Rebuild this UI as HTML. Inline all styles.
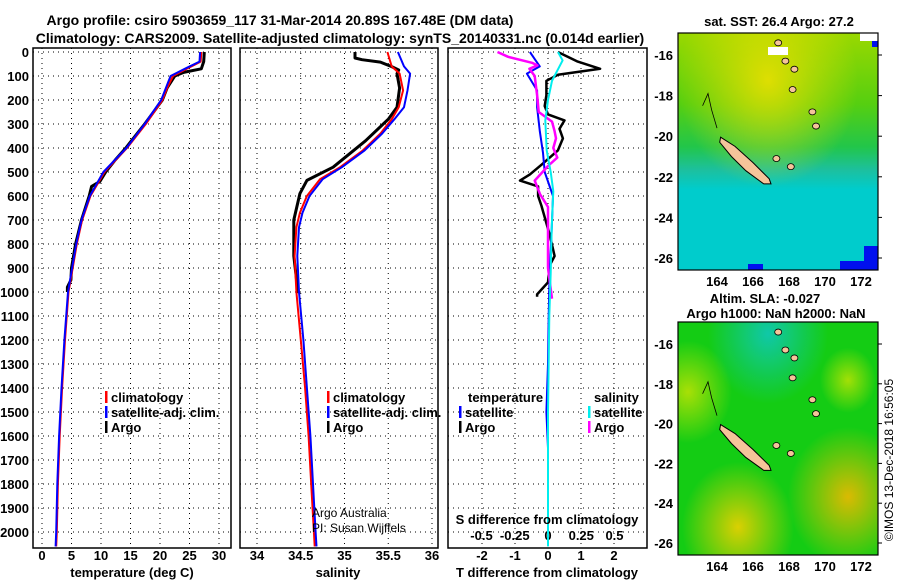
<!DOCTYPE html>
<html><head><meta charset="utf-8"><style>
body{margin:0;background:#fff;}
svg{display:block;font-family:"Liberation Sans",Arial,sans-serif;font-weight:bold;}
</style></head><body>
<svg id="c" width="900" height="580" viewBox="0 0 900 580" xmlns="http://www.w3.org/2000/svg">
<defs>
<radialGradient id="y1" cx="0.45" cy="0.2" r="0.45"><stop offset="0" stop-color="#f2e000" stop-opacity="0.85"/><stop offset="1" stop-color="#f2e000" stop-opacity="0"/></radialGradient>
<linearGradient id="g1" x1="0" y1="0" x2="0" y2="1"><stop offset="0" stop-color="#9ad800"/><stop offset="0.3" stop-color="#56cf10"/><stop offset="0.48" stop-color="#22c64a"/><stop offset="0.58" stop-color="#1cc0a0"/><stop offset="0.66" stop-color="#00cccc"/><stop offset="1" stop-color="#00cccc"/></linearGradient>
<radialGradient id="yb1" cx="0.3" cy="0.88" r="0.28"><stop offset="0" stop-color="#f0d000" stop-opacity="0.9"/><stop offset="1" stop-color="#f0d000" stop-opacity="0"/></radialGradient>
<radialGradient id="yb2" cx="0.85" cy="0.75" r="0.3"><stop offset="0" stop-color="#f0b800" stop-opacity="0.9"/><stop offset="1" stop-color="#f0c000" stop-opacity="0"/></radialGradient>
<radialGradient id="yb3" cx="0.05" cy="0.3" r="0.22"><stop offset="0" stop-color="#e8e800" stop-opacity="0.7"/><stop offset="1" stop-color="#e8e800" stop-opacity="0"/></radialGradient>
<radialGradient id="yb4" cx="0.85" cy="0.25" r="0.14"><stop offset="0" stop-color="#e0e800" stop-opacity="0.7"/><stop offset="1" stop-color="#e0e800" stop-opacity="0"/></radialGradient>
<radialGradient id="cb1" cx="0.45" cy="0.05" r="0.3"><stop offset="0" stop-color="#10c8a8"/><stop offset="1" stop-color="#10c8a8" stop-opacity="0"/></radialGradient>
</defs>
<g id="plots"></g>
<g id="maps"></g>
</svg>
<script>
// ---------- data ----------
const depthTicks=[0,100,200,300,400,500,600,700,800,900,1000,1100,1200,1300,1400,1500,1600,1700,1800,1900,2000];
const tempTicks=[0,5,10,15,20,25,30];
const salTicks=[34,34.5,35,35.5,36];
const tdTicks=[-2,-1,0,1,2];
const sdTicks=[-0.5,-0.25,0,0.25,0.5];
const sdTickLabels=["-0.5","-0.25","0","0.25","0.5"];

const climTDepth=[0,40,70,100,150,200,300,400,500,600,700,800,900,1000,1200,1400,1600,1800,2000,2060];
const climTVal=[27.0,26.9,24.5,22.2,21.2,20.4,17.6,14.4,10.6,8.2,6.8,5.9,5.2,4.5,3.9,3.4,3.0,2.7,2.5,2.4];
const satTVal=[26.8,26.7,24.2,21.8,21.0,20.2,17.4,14.3,10.4,8.1,6.7,5.8,5.1,4.4,3.8,3.3,2.9,2.6,2.4,2.3];
const argoTDepth=[0,40,70,85,100,150,200,300,400,450,500,540,560,600,700,800,900,950,980,1000];
const argoTVal=[27.5,27.4,27.0,24.0,22.5,21.2,20.4,17.4,14.2,12.4,10.8,9.8,8.4,8.0,6.7,5.7,5.0,4.9,4.3,4.3];

const climSDepth=[0,60,90,160,230,280,340,410,480,530,600,670,730,850,1000,1200,1400,1600,1800,2000,2060];
const climSVal=[35.49,35.54,35.63,35.67,35.62,35.54,35.41,35.21,34.95,34.72,34.57,34.49,34.45,34.43,34.45,34.5,34.55,34.59,34.62,34.65,34.66];
const satSVal=[35.61,35.68,35.75,35.72,35.68,35.57,35.43,35.23,34.97,34.75,34.6,34.52,34.48,34.46,34.48,34.53,34.57,34.61,34.64,34.67,34.68];
const argoSDepth=[0,25,32,42,61,75,90,150,230,280,370,480,535,590,700,850,1005];
const argoSVal=[35.12,35.12,35.2,35.41,35.54,35.62,35.6,35.63,35.6,35.5,35.24,34.87,34.57,34.49,34.42,34.42,34.47];

const tSatDiffDepth=[0,30,60,90,160,230,330,420,500,600,780,920,1100,1300,1500,1650];
const tSatDiffVal=[-0.55,-0.4,-0.25,-0.64,-0.33,-0.33,-0.25,-0.15,-0.1,0.15,0.1,0.05,0.02,0.0,-0.05,0.0];
const tArgoDiffDepth=[0,40,70,95,120,180,225,260,285,320,360,410,470,510,536,560,600,640,760,850,890,960,1010,1020];
const tArgoDiffVal=[0.3,0.9,1.58,0.3,-0.05,-0.05,-0.1,0.0,0.5,0.35,0.45,0.3,-0.2,-0.55,-0.85,-0.3,-0.3,-0.2,0.05,0.2,0.05,0.0,-0.33,-0.33];
const sSatDiffDepth=[0,35,120,200,285,410,500,580,700,800,920,1100,1500,2060];
const sSatDiffVal=[0.075,0.11,0.03,0.0,-0.02,-0.01,0.02,0.04,0.03,0.025,0.02,0.01,0.0,0.0];
const sArgoDiffDepth=[0,20,45,56,70,100,190,250,290,330,360,400,440,475,536,592,646,750,900,1028];
const sArgoDiffVal=[-0.38,-0.3,-0.12,-0.08,-0.14,-0.1,-0.08,-0.07,0.03,0.05,0.06,0.04,0.07,0.0,-0.1,-0.06,0.0,0.0,0.0,0.03];

// ---------- axes ----------
const NS="http://www.w3.org/2000/svg";
const yD=d=>52+d*0.24;
const xT=t=>42+t*5.9;
const xS=s=>257+(s-34)*87.5;
const xDT=t=>548+t*33;
const xDS=s=>548+s*133;
const plots=document.getElementById('plots');
function mk(tag,attrs,parent){const e=document.createElementNS(NS,tag);for(const k in attrs)e.setAttribute(k,attrs[k]);(parent||plots).appendChild(e);return e;}
function txt(x,y,s,anchor,size,parent,weight){const e=mk('text',{x:x,y:y,'text-anchor':anchor||'middle','font-size':size||13},parent);if(weight)e.setAttribute('font-weight',weight);e.textContent=s;return e;}

const panels=[{x0:33,x1:231,ticks:tempTicks,fx:xT,name:'temperature-panel'},{x0:240,x1:438,ticks:salTicks,fx:xS,name:'salinity-panel'},{x0:448,x1:647,ticks:tdTicks,fx:xDT,name:'difference-panel'}];
panels.forEach(p=>{
  const g=mk('g',{});
  
  
  depthTicks.forEach(d=>{const l=mk('line',{x1:p.x0,x2:p.x1,y1:yD(d),y2:yD(d),stroke:'#000','stroke-dasharray':'1 4','stroke-width':1},g);
    });
  p.ticks.forEach(t=>{const l=mk('line',{x1:p.fx(t),x2:p.fx(t),y1:48,y2:548,stroke:'#000','stroke-dasharray':'1 4','stroke-width':1},g);
    });
  const r=mk('rect',{x:p.x0,y:48,width:p.x1-p.x0,height:500,fill:'none',stroke:'#000','stroke-width':1.5},g);
  
});
depthTicks.forEach(d=>{const t=txt(29,yD(d)+5,String(d),'end',13);});
tempTicks.forEach(v=>{const t=txt(xT(v),560,String(v));});
salTicks.forEach(v=>{const t=txt(xS(v),560,String(v));});
tdTicks.forEach(v=>{const t=txt(xDT(v),560,String(v));});
sdTicks.forEach((v,i)=>{const t=txt(xDS(v),540,sdTickLabels[i]);});

function line(dep,val,fx,color,w,name){
  const pts=dep.map((d,i)=>fx(val[i]).toFixed(1)+','+yD(d).toFixed(1)).join(' ');
  const e=mk('polyline',{points:pts,fill:'none',stroke:color,'stroke-width':w,'stroke-linejoin':'round'});
  
  
}
line(argoTDepth,argoTVal,xT,'#000',3,'argo-temperature-line');
line(climTDepth,climTVal,xT,'#ff0000',2,'climatology-temperature-line');
line(climTDepth,satTVal,xT,'#0000ff',2,'satellite-temperature-line');
line(argoSDepth,argoSVal,xS,'#000',3,'argo-salinity-line');
line(climSDepth,climSVal,xS,'#ff0000',2,'climatology-salinity-line');
line(climSDepth,satSVal,xS,'#0000ff',2,'satellite-salinity-line');
line(tArgoDiffDepth,tArgoDiffVal,xDT,'#000',2.5,'argo-t-diff-line');
line(tSatDiffDepth,tSatDiffVal,xDT,'#0000ff',2,'satellite-t-diff-line');
line(sArgoDiffDepth,sArgoDiffVal,xDS,'#ff00ff',2.5,'argo-s-diff-line');
line(sSatDiffDepth,sSatDiffVal,xDS,'#00eeee',2,'satellite-s-diff-line');

function leg(x,y,color,label,name){
  const g=mk('g',{});
  
  
  mk('rect',{x:x,y:y-11,width:2.5,height:12,fill:color},g);
  txt(x+6,y,label,'start',13,g);
}
leg(105,402,'#ff0000','climatology','legend-climatology');
leg(105,417,'#0000ff','satellite-adj. clim.','legend-satellite-adj');
leg(105,432,'#000','Argo','legend-argo');
leg(327,402,'#ff0000','climatology','legend-climatology-sal');
leg(327,417,'#0000ff','satellite-adj. clim.','legend-satellite-adj-sal');
leg(327,432,'#000','Argo','legend-argo-sal');
txt(468,402,'temperature','start',13);
leg(459,417,'#0000ff','satellite','legend-t-satellite');
leg(459,432,'#000','Argo','legend-t-argo');
txt(594,402,'salinity','start',13);
leg(588,417,'#00eeee','satellite','legend-s-satellite');
leg(588,432,'#ff00ff','Argo','legend-s-argo');

txt(280,25,'Argo profile: csiro 5903659_117 31-Mar-2014 20.89S 167.48E (DM data)','middle',14);
txt(340,43,'Climatology: CARS2009. Satellite-adjusted climatology: synTS_20140331.nc (0.014d earlier)','middle',14);
txt(132,577,'temperature (deg C)','middle',13);
txt(338,577,'salinity','middle',13);
txt(547,577,'T difference from climatology','middle',13);
txt(547,524,'S difference from climatology','middle',13);
txt(312,517,'Argo Australia','start',12,null,'normal');
txt(312,532,'PI: Susan Wijffels','start',12,null,'normal');
const ts=txt(0,0,'©IMOS 13-Dec-2018 16:56:05','middle',12,null,'normal');
ts.setAttribute('transform','translate(893,460) rotate(-90)');


// ---------- maps ----------
const maps=document.getElementById('maps');
const lonTicks=[164,166,168,170,172];
const latTicks=[-16,-18,-20,-22,-24,-26];
const xLon=l=>717+(l-164)*18;
function map(y0,h,kind,name){
  const g=mk('g',{},maps);
  
  
  const yLat=la=>y0+22+(-16-la)*(h-34)/10;
  if(kind===1){
    mk('rect',{x:678,y:y0,width:200,height:h,fill:'url(#g1)'},g);
    mk('rect',{x:678,y:y0,width:200,height:h,fill:'url(#y1)'},g);
    mk('rect',{x:768,y:y0+14,width:20,height:8,fill:'#fff'},g);
    mk('rect',{x:860,y:y0,width:18,height:8,fill:'#fff'},g);
    mk('rect',{x:840,y:y0+h-9,width:38,height:9,fill:'#0010ee'},g);
    mk('rect',{x:864,y:y0+h-24,width:14,height:24,fill:'#0010ee'},g);
    mk('rect',{x:748,y:y0+h-6,width:15,height:6,fill:'#0010ee'},g);
    mk('rect',{x:872,y:y0+8,width:6,height:6,fill:'#0010ee'},g);
  } else {
    mk('rect',{x:678,y:y0,width:200,height:h,fill:'#14cc14'},g);
    mk('rect',{x:678,y:y0,width:200,height:h,fill:'url(#cb1)'},g);
    mk('rect',{x:678,y:y0,width:200,height:h,fill:'url(#yb1)'},g);
    mk('rect',{x:678,y:y0,width:200,height:h,fill:'url(#yb2)'},g);
    mk('rect',{x:678,y:y0,width:200,height:h,fill:'url(#yb3)'},g);
    mk('rect',{x:678,y:y0,width:200,height:h,fill:'url(#yb4)'},g);
  }
  const nc=[[164.2,-20.05],[165,-20.5],[166,-21.3],[166.9,-22.1],[167.0,-22.35],[166.6,-22.35],[165.6,-21.7],[164.8,-21.0],[164.15,-20.3]];
  mk('polygon',{points:nc.map(p=>xLon(p[0])+','+yLat(p[1])).join(' '),fill:'#f5c49a',stroke:'#000','stroke-width':1},g);
  [[167.4,-15.4],[167.8,-16.3],[168.3,-16.7],[168.2,-17.7],[169.3,-18.8],[169.5,-19.5],[168.1,-21.5],[167.3,-21.1]].forEach(p=>{
    mk('ellipse',{cx:xLon(p[0]),cy:yLat(p[1]),rx:3.5,ry:3,fill:'#f5c49a',stroke:'#000','stroke-width':0.8},g);});
  mk('polyline',{points:[[163.2,-18.5],[163.5,-17.9],[163.7,-18.7],[164,-19.6]].map(p=>xLon(p[0])+','+yLat(p[1])).join(' '),fill:'none',stroke:'#000','stroke-width':0.8},g);
  mk('rect',{x:678,y:y0,width:200,height:h,fill:'none',stroke:'#000','stroke-width':1.2},g);
  lonTicks.forEach(l=>{const t=txt(xLon(l),y0+h+16,String(l),'middle',13,g);});
  latTicks.forEach(l=>{const t=txt(673,yLat(l)+5,String(l),'end',13,g);
    mk('line',{x1:878,x2:882,y1:yLat(l),y2:yLat(l),stroke:'#000'},g);});
}
map(33,237,1,'sst-map');
map(322,233,2,'sla-map');
txt(779,26,'sat. SST: 26.4 Argo: 27.2','middle',13);
txt(765,303,'Altim. SLA: -0.027','middle',13);
txt(776,318,'Argo h1000: NaN h2000: NaN','middle',13);
</script>
</body></html>
